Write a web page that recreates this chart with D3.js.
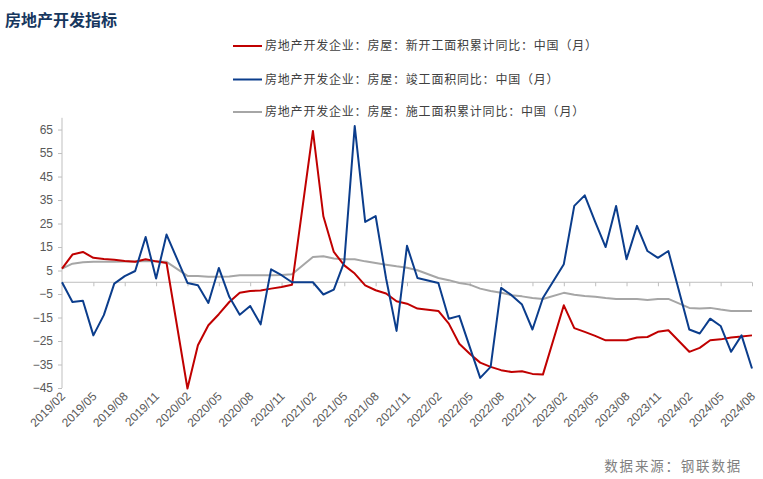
<!DOCTYPE html>
<html><head><meta charset="utf-8">
<script src="https://cdn.jsdelivr.net/npm/d3@7"></script>
<style>
html,body{margin:0;padding:0;background:#fff;}
svg{display:block;}
</style></head>
<body>
<svg id="chart" width="763" height="479"></svg>
<script>
const months = [
"2019/02","2019/03","2019/04","2019/05","2019/06","2019/07","2019/08","2019/09","2019/10","2019/11","2019/12",
"2020/01","2020/02","2020/03","2020/04","2020/05","2020/06","2020/07","2020/08","2020/09","2020/10","2020/11","2020/12",
"2021/01","2021/02","2021/03","2021/04","2021/05","2021/06","2021/07","2021/08","2021/09","2021/10","2021/11","2021/12",
"2022/01","2022/02","2022/03","2022/04","2022/05","2022/06","2022/07","2022/08","2022/09","2022/10","2022/11","2022/12",
"2023/01","2023/02","2023/03","2023/04","2023/05","2023/06","2023/07","2023/08","2023/09","2023/10","2023/11","2023/12",
"2024/01","2024/02","2024/03","2024/04","2024/05","2024/06","2024/07","2024/08"];

const xTickLabels = ["2019/02","2019/05","2019/08","2019/11","2020/02","2020/05","2020/08","2020/11",
"2021/02","2021/05","2021/08","2021/11","2022/02","2022/05","2022/08","2022/11",
"2023/02","2023/05","2023/08","2023/11","2024/02","2024/05","2024/08"];

const yTicks = [65,55,45,35,25,15,5,-5,-15,-25,-35,-45];

const seriesNames = [
"房地产开发企业：房屋：新开工面积累计同比：中国（月）",
"房地产开发企业：房屋：竣工面积同比：中国（月）",
"房地产开发企业：房屋：施工面积累计同比：中国（月）"];

const newStarts = [5.8,11.8,12.9,10.4,9.9,9.6,9.1,8.7,9.8,8.9,8.2,null,
-45.2,-26.8,-18.3,-13.6,-8.4,-4.5,-3.7,-3.5,-2.7,-2.0,-1.1,null,
64.4,28.1,12.9,7.2,3.7,-1.3,-3.4,-4.8,-8.1,-9.1,-11.2,null,
-12.2,-17.6,-26.2,-30.4,-34.2,-36.0,-37.4,-38.2,-37.9,-39.0,-39.3,null,
-9.8,-19.5,-21.1,-22.8,-24.7,-24.7,-24.7,-23.5,-23.3,-21.1,-20.4,null,
-29.6,-27.9,-24.7,-24.3,-23.5,-23.1,-22.6];

const completed = [0,-8.4,-7.9,-22.6,-14.0,-0.6,2.6,4.8,19.3,1.6,20.3,null,
-0.3,-1.3,-8.8,6.1,-6.2,-13.8,-10.1,-17.9,5.5,3.0,0,null,
0,-5.2,-3.1,8.7,66.5,25.7,28.2,1.6,-20.7,15.5,1.8,null,
-0.3,-15.5,-14.3,-27.5,-40.7,-36.0,-2.4,-5.5,-9.5,-20.1,-6.7,null,
7.7,32.5,37.0,25.7,15.0,32.5,9.8,24.0,13.3,10.4,13.3,null,
-20.1,-21.8,-15.5,-18.6,-29.6,-22.6,-36.7];

const underConstruction = [5.8,7.9,8.5,8.7,8.7,8.7,8.8,8.8,9.0,8.8,8.7,null,
2.7,2.7,2.3,2.3,2.5,3.0,3.0,3.0,3.0,3.1,3.4,null,
10.8,11.1,10.1,9.8,9.8,8.9,8.2,7.5,6.8,6.2,5.1,null,
1.8,0.9,-0.3,-1.0,-2.7,-3.7,-4.5,-5.5,-6.0,-6.7,-7.1,null,
-4.5,-5.3,-5.8,-6.2,-6.7,-7.1,-7.1,-7.1,-7.5,-7.1,-7.1,null,
-10.9,-11.2,-10.9,-11.6,-12.2,-12.2,-12.2];

const colors = ["#C00000","#0B3D8C","#A6A6A6"];
const seriesData = [newStarts, completed, underConstruction];

const svg = d3.select("#chart");
const axisColor = "#BFBFBF";
const labelColor = "#595959";

const x = d3.scalePoint().domain(months).range([62, 752]);
const y = d3.scaleLinear().domain([-45, 70]).range([388, 117.8]);

// title
svg.append("text").attr("x",5).attr("y",26)
  .attr("font-family","'Noto Sans CJK SC'").attr("font-weight",700)
  .attr("font-size",16).attr("fill","#17375E").text("房地产开发指标");

// legend
const legY = [46, 79.5, 112];
seriesNames.forEach((n,i)=>{
  svg.append("line").attr("x1",233).attr("x2",262).attr("y1",legY[i]).attr("y2",legY[i])
    .attr("stroke",colors[i]).attr("stroke-width",2);
  svg.append("text").attr("x",265).attr("y",legY[i]).attr("dy","0.36em")
    .attr("font-family","'Noto Sans CJK SC'").attr("font-size",12)
    .attr("letter-spacing","0.8px").attr("fill","#404040").text(n);
});

// y axis
const yAxis = d3.axisLeft(y).tickValues(yTicks).tickSize(4).tickPadding(5).tickFormat(d3.format("d"));
const gy = svg.append("g").attr("transform","translate(62,0)").call(yAxis);
gy.select(".domain").attr("stroke",axisColor).attr("d","M0,117.8V388");
gy.selectAll(".tick line").attr("stroke",axisColor);
gy.selectAll(".tick text").attr("fill",labelColor).attr("font-family","'Liberation Sans', Arial")
  .attr("font-size",12);

// x axis at zero
const xAxis = d3.axisBottom(x).tickValues(xTickLabels).tickSize(4).tickFormat("");
const gx = svg.append("g").attr("transform",`translate(0,${y(0)})`).call(xAxis);
gx.select(".domain").attr("stroke",axisColor).attr("d",`M62,0H752`);
gx.selectAll(".tick line").attr("stroke",axisColor);

// x labels at bottom
svg.append("g").selectAll("text").data(xTickLabels).join("text")
  .attr("transform",d=>`translate(${x(d)+4},397) rotate(-45)`)
  .attr("text-anchor","end")
  .attr("font-family","'Liberation Sans', Arial").attr("font-size",12)
  .attr("fill",labelColor).text(d=>d);

// lines
const line = d3.line().x(d=>x(d.m)).y(d=>y(d.v));
[2,0,1].forEach(i=>{
  const pts = months.map((m,j)=>({m, v: seriesData[i][j]})).filter(d=>d.v!==null);
  svg.append("path").datum(pts).attr("d",line).attr("fill","none")
    .attr("stroke",colors[i]).attr("stroke-width",2).attr("stroke-linejoin","round");
});

// source
svg.append("text").attr("x",742).attr("y",471).attr("text-anchor","end")
  .attr("font-family","'Noto Sans CJK SC'").attr("font-size",13.5)
  .attr("letter-spacing","1.8px").attr("fill","#7F7F7F").text("数据来源：钢联数据");
</script>
</body></html>
